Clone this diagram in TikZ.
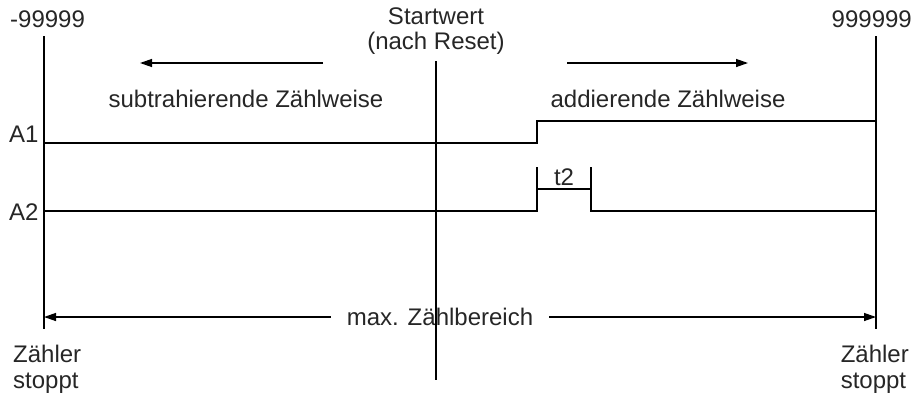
\documentclass[tikz,border=0pt]{standalone}
\usepackage{fontspec}
\setmainfont{Liberation Sans}
\usetikzlibrary{arrows.meta}
\begin{document}
\begin{tikzpicture}[x=1pt,y=-1pt,
  txt/.style={inner sep=0pt,font=\fontsize{24}{25.5}\selectfont,text=black!85},
  ln/.style={line width=1.3pt,black},
  arr/.style={ln,-{Triangle[length=12pt,width=8pt]}}]
\useasboundingbox (0,0) rectangle (917,397);
% vertical lines
\coordinate (Ltop) at (44,36); \coordinate (Lbot) at (44,329);
\coordinate (Rtop) at (876,36); \coordinate (Rbot) at (876,329);
\coordinate (Mtop) at (436,61); \coordinate (Mbot) at (436,380);
% top labels
\node[txt,anchor=west] (min) at (10,19) {-99999};
\node[txt,anchor=east] (max) at (912,19) {999999};
\node[txt,align=center] (start) at (436,31) {Startwert\\(nach Reset)};
% direction arrows
\coordinate (la1) at (323,63); \coordinate (la2) at (140,63);
\coordinate (ra1) at (567,63); \coordinate (ra2) at (748,63);
\draw[arr] (la1) -- (la2);
\draw[arr] (ra1) -- (ra2);
\node[txt] (sub) at (246,99) {subtrahierende Zählweise};
\node[txt] (add) at (668,99) {addierende Zählweise};
% A1
\node[txt,anchor=west] (A1) at (9,134) {A1};
\coordinate (a1s) at (44,143); \coordinate (a1u) at (537,143);
\coordinate (a1h) at (537,121); \coordinate (a1e) at (876,121);
\draw[ln] (a1s) -- (a1u) -- (a1h) -- (a1e);
% A2
\node[txt,anchor=west] (A2) at (9,212) {A2};
\coordinate (a2s) at (44,211); \coordinate (a2u) at (537,211);
\coordinate (a2h) at (537,189); \coordinate (a2d) at (591,189);
\coordinate (a2l) at (591,211); \coordinate (a2e) at (876,211);
\draw[ln] (a2s) -- (a2u) -- (a2h) -- (a2d) -- (a2l) -- (a2e);
\coordinate (t2a) at (537,167); \coordinate (t2b) at (591,167);
\draw[ln] (a2h) -- (t2a);
\draw[ln] (a2d) -- (t2b);
\node[txt] (t2) at (564,177) {t2};
% max range
\node[txt,inner xsep=16pt] (range) at (440,317) {max. Zählbereich};
\coordinate (rl) at (44,317); \coordinate (rr) at (876,317);
\draw[arr] (range.west) -- (rl);
\draw[arr] (range.east) -- (rr);
% stop labels
\node[txt,anchor=north west,align=left] (stopL) at (13,345) {Zähler\\stoppt};
\node[txt,anchor=north east,align=left] (stopR) at (909,345) {Zähler\\stoppt};
% vertical lines on top
\draw[ln] (Ltop) -- (Lbot);
\draw[ln] (Rtop) -- (Rbot);
\draw[ln] (Mtop) -- (Mbot);
\end{tikzpicture}
\end{document}
